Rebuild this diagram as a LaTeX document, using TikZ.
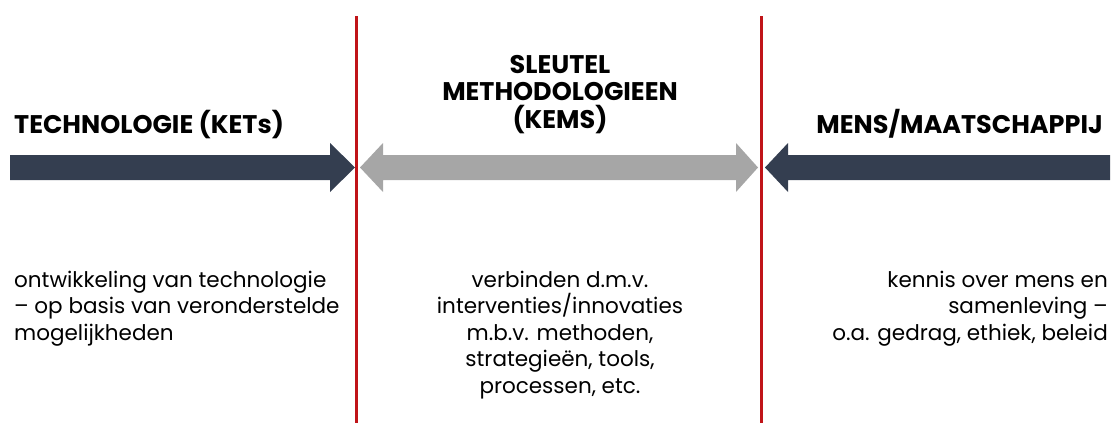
\documentclass[tikz,border=0pt]{standalone}
\usepackage{fontspec}
\setmainfont{Poppins}
\definecolor{kleurdonker}{RGB}{52,62,80}
\definecolor{kleurgrijs}{RGB}{166,166,166}
\definecolor{kleurrood}{RGB}{192,20,24}
\tikzset{
  kop/.style={font=\fontsize{25.5}{27.5}\selectfont\bfseries, inner sep=0pt},
  tekst/.style={font=\fontsize{21.5}{26.5}\selectfont, inner sep=0pt},
  grens/.style={color=kleurrood, line width=3pt},
}
\begin{document}
\begin{tikzpicture}[x=1pt,y=-1pt]
	\useasboundingbox (0,0) rectangle (1113,423);
	% grenslijnen
	\draw[grens] (356.5,16)--(356.5,423);
	\draw[grens] (761,16)--(761,423);
	% pijlen
	\fill[color=kleurdonker] (10,155)--(330,155)--(330,143)--(355,167.5)--(330,192)--(330,180)--(10,180)--cycle;
	\fill[color=kleurgrijs] (360,167.5)--(383,143)--(383,155)--(736,155)--(736,143)--(758,167.5)--(736,192)--(736,180)--(383,180)--(383,192)--cycle;
	\fill[color=kleurdonker] (1110,155)--(788,155)--(788,143)--(765,167.5)--(788,192)--(788,180)--(1110,180)--cycle;
	% koppen (base = laatste regel)
	\node[kop, anchor=base west] (techkop) at (14,133) {TECHNOLOGIE (KETs)};
	\node[kop, anchor=base, align=center] (kemskop) at (560,128) {SLEUTEL\\METHODOLOGIEEN\\(KEMS)};
	\node[kop, anchor=base east] (menskop) at (1103,133) {MENS/MAATSCHAPPIJ};
	% teksten
	\node[tekst, anchor=base west, align=left] (techtekst) at (14,340) {ontwikkeling van technologie\\– op basis van veronderstelde\\mogelijkheden};
	\node[tekst, anchor=base, align=center] (kemstekst) at (560,393) {verbinden d.m.v.\\interventies/innovaties\\m.b.v. methoden,\\strategieën, tools,\\processen, etc.};
	\node[tekst, anchor=base east, align=right] (menstekst) at (1108,340) {kennis over mens en\\samenleving –\\o.a. gedrag, ethiek, beleid};
\end{tikzpicture}
\end{document}
